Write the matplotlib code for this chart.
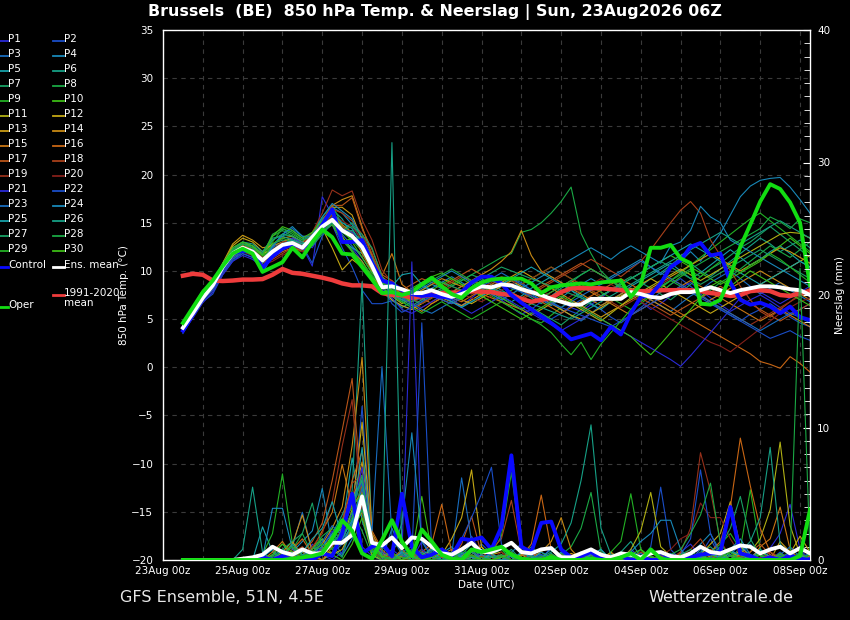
import matplotlib
matplotlib.use("Agg")
import matplotlib.pyplot as plt
import matplotlib.dates as mdates
import pandas as pd
from datetime import datetime
from matplotlib.ticker import MultipleLocator
from matplotlib.lines import Line2D

# 6-hourly steps of the 06Z run, 23Aug 12z .. 08Sep 06z
times = pd.date_range("2026-08-23 12:00", "2026-09-08 06:00", freq="6h")

# 850 hPa temperature (deg C)
clim = [9.5, 9.7, 9.6, 9.0, 8.95, 9.0, 9.1, 9.1, 9.15, 9.6, 10.2, 9.8, 9.7, 9.5, 9.3, 9.05,
        8.7, 8.5, 8.5, 8.4, 7.7, 7.5, 7.5, 7.2, 7.4, 7.5, 7.7, 7.7, 7.8, 7.9, 7.85, 7.8,
        7.6, 7.5, 7.1, 6.8, 7.0, 7.2, 7.8, 8.2, 8.2, 8.2, 8.2, 8.1, 8.0, 7.9, 7.9, 7.9,
        8.0, 8.0, 8.0, 8.0, 7.9, 7.7, 7.6, 7.4, 7.5, 7.9, 8.0, 7.9, 7.5, 7.4, 7.7, 7.9]
ens_mean = [4.1, 5.6, 7.2, 8.5, 10.4, 11.8, 12.4, 12.0, 11.1, 12.0, 12.7, 12.9, 12.4, 13.5, 14.6, 15.3,
            14.2, 13.6, 12.5, 10.5, 8.3, 8.4, 8.1, 7.7, 7.7, 8.0, 7.6, 7.3, 7.6, 8.0, 8.4, 8.3,
            8.6, 8.5, 8.1, 7.8, 7.5, 7.1, 6.8, 6.5, 6.5, 7.1, 7.1, 7.1, 7.1, 7.8, 7.6, 7.3,
            7.2, 7.6, 7.8, 7.8, 8.0, 8.3, 8.0, 7.7, 8.0, 8.2, 8.4, 8.4, 8.3, 8.1, 8.0, 7.5]
control = [3.8, 5.5, 7.5, 8.5, 10.3, 11.8, 12.1, 12.0, 10.3, 11.5, 12.3, 12.8, 12.4, 13.0, 14.8, 16.4,
           13.0, 13.0, 13.2, 10.8, 9.0, 8.7, 8.0, 7.6, 7.4, 7.5, 7.3, 7.2, 7.8, 8.8, 9.4, 9.4,
           8.7, 7.5, 6.7, 6.0, 5.3, 4.6, 3.8, 2.9, 3.2, 3.5, 2.8, 4.2, 3.4, 5.6, 7.3, 7.5,
           8.7, 10.4, 11.1, 12.5, 12.9, 11.6, 11.8, 8.8, 7.0, 6.5, 6.7, 6.3, 5.6, 6.3, 5.2, 4.9]
oper = [4.6, 6.2, 7.8, 9.0, 10.5, 11.8, 12.3, 11.8, 9.9, 10.4, 10.9, 12.4, 11.4, 13.0, 14.3, 13.5,
        11.8, 11.7, 10.4, 9.1, 7.7, 7.8, 7.5, 7.8, 8.6, 9.3, 8.4, 7.6, 7.2, 8.2, 8.8, 9.1,
        9.2, 9.2, 9.2, 8.7, 7.7, 8.3, 8.5, 8.6, 8.7, 8.6, 8.8, 8.9, 9.0, 7.3, 8.6, 12.4,
        12.4, 12.7, 11.3, 10.8, 6.6, 6.5, 7.0, 9.5, 12.5, 14.8, 17.2, 19.0, 18.5, 17.1, 15.0, 8.5]

t_p1 = [3.8, 5.4, 7.0, 8.2, 10.0, 11.5, 12.0, 11.6, 10.8, 11.8, 12.6, 13.0, 12.5, 10.5, 17.7, 15.8,
        13.2, 12.4, 11.0, 9.2, 8.0, 7.4, 7.0, 6.8, 7.2, 7.8, 7.5, 7.0, 6.4, 7.2, 8.0, 7.6,
        7.0, 6.2, 5.5, 6.0, 6.8, 7.4, 6.9, 6.2, 5.8, 6.5, 7.2, 8.0, 8.4, 7.6, 6.8, 6.0,
        6.6, 7.4, 8.2, 8.8, 8.0, 7.2, 6.5, 5.8, 6.4, 7.0, 7.5, 6.9, 6.2, 5.6, 6.0, 6.6]
t_p2 = [3.5, 5.2, 6.8, 7.6, 9.6, 11.0, 11.8, 11.4, 10.2, 11.4, 12.2, 12.6, 12.0, 12.8, 14.0, 14.8,
        12.4, 10.4, 8.0, 6.6, 6.6, 6.9, 6.4, 6.0, 6.8, 7.4, 8.0, 7.7, 7.2, 8.3, 9.0, 8.6,
        8.0, 7.4, 6.8, 6.2, 5.4, 5.0, 5.6, 6.4, 7.0, 6.5, 6.0, 5.2, 4.6, 5.4, 6.2, 7.0,
        7.8, 8.6, 9.2, 8.4, 7.6, 6.8, 6.0, 5.4, 4.8, 5.5, 6.0, 6.6, 5.9, 5.2, 4.6, 4.2]
t_p3 = [4.0, 5.6, 7.3, 8.4, 10.2, 11.6, 12.2, 12.0, 11.4, 12.4, 13.0, 13.4, 12.8, 13.8, 15.0, 15.8,
        13.8, 12.6, 11.4, 9.8, 8.6, 7.8, 7.2, 7.8, 8.4, 8.0, 7.4, 6.8, 6.3, 6.8, 7.4, 8.0,
        8.6, 9.2, 8.8, 8.0, 7.4, 6.8, 6.0, 5.4, 4.8, 5.6, 6.4, 7.0, 7.6, 8.2, 7.6, 7.0,
        6.4, 5.8, 6.6, 7.4, 8.0, 8.8, 9.4, 10.0, 9.2, 8.4, 7.6, 8.2, 8.8, 8.0, 7.4, 6.8]
t_p4 = [4.2, 5.8, 7.4, 8.6, 10.6, 12.2, 12.8, 12.4, 11.0, 12.6, 13.6, 14.2, 13.4, 13.0, 15.2, 16.6,
        16.0, 14.8, 13.0, 10.6, 8.8, 8.0, 7.4, 7.0, 7.6, 8.2, 8.8, 9.4, 8.8, 8.2, 7.6, 7.8,
        8.4, 9.0, 8.2, 7.6, 7.0, 6.4, 7.2, 8.0, 8.6, 9.2, 8.6, 9.4, 10.0, 10.6, 11.2, 10.4,
        9.6, 10.4, 11.0, 12.0, 11.0, 12.5, 13.9, 15.8, 17.7, 18.8, 19.4, 19.6, 19.7, 18.7, 17.4, 16.0]
t_p5 = [4.0, 5.5, 7.1, 8.0, 9.8, 11.2, 12.0, 11.8, 9.8, 11.6, 12.4, 13.2, 12.6, 13.4, 14.2, 15.0,
        13.2, 12.4, 11.8, 10.4, 9.0, 7.6, 6.8, 7.4, 8.0, 8.6, 8.2, 7.8, 8.4, 9.0, 8.6, 8.0,
        7.4, 6.8, 7.4, 8.2, 8.8, 9.4, 8.8, 8.0, 7.2, 6.6, 6.0, 6.8, 7.6, 8.4, 9.0, 9.6,
        10.2, 10.8, 10.0, 9.2, 9.8, 10.6, 11.4, 12.2, 11.4, 10.6, 11.2, 12.0, 12.6, 11.8, 11.0, 10.4]
t_p6 = [4.4, 6.0, 7.6, 8.8, 10.8, 12.4, 13.0, 12.6, 11.6, 13.2, 13.8, 13.6, 13.0, 13.8, 15.4, 16.4,
        15.4, 13.6, 12.2, 10.0, 8.4, 7.0, 6.2, 6.8, 7.4, 8.0, 7.6, 7.0, 7.6, 8.2, 8.8, 9.4,
        9.0, 8.4, 7.8, 7.2, 6.6, 7.4, 8.2, 8.8, 9.6, 10.2, 9.6, 9.0, 8.2, 7.6, 8.4, 9.2,
        9.8, 10.6, 11.4, 10.8, 10.0, 9.4, 10.2, 11.0, 11.8, 12.6, 13.4, 12.8, 12.0, 12.6, 13.2, 12.4]
t_p7 = [4.3, 5.8, 7.2, 8.6, 10.4, 12.0, 12.6, 12.2, 11.2, 12.8, 13.2, 13.0, 12.4, 12.8, 14.4, 15.4,
        14.2, 15.0, 13.4, 11.6, 9.2, 7.8, 7.4, 7.0, 6.6, 7.2, 7.8, 8.4, 9.0, 9.6, 9.2, 8.6,
        8.0, 7.4, 6.8, 6.2, 5.6, 5.0, 4.4, 5.2, 6.0, 6.8, 7.4, 8.0, 8.8, 9.4, 8.8, 8.2,
        7.6, 7.0, 7.8, 8.6, 9.4, 10.2, 10.8, 11.6, 12.4, 13.0, 13.8, 14.6, 13.8, 13.0, 12.2, 11.4]
t_p8 = [4.6, 6.2, 7.8, 9.0, 10.6, 12.0, 12.6, 12.4, 11.8, 13.6, 14.2, 13.6, 13.0, 14.0, 15.6, 16.8,
        14.8, 13.8, 12.6, 10.8, 8.8, 8.4, 7.6, 8.0, 8.6, 9.2, 8.8, 8.4, 9.0, 9.6, 10.2, 10.8,
        11.4, 11.8, 14.0, 14.3, 15.0, 16.0, 17.2, 18.7, 13.9, 11.8, 10.0, 9.0, 8.2, 7.4, 6.8, 7.6,
        8.4, 9.0, 8.4, 7.8, 7.2, 8.0, 8.8, 9.4, 10.2, 11.0, 11.8, 12.6, 12.0, 11.4, 12.2, 13.0]
t_p9 = [4.4, 6.0, 7.6, 8.8, 10.6, 12.2, 12.8, 12.4, 11.4, 13.0, 14.4, 14.0, 13.2, 13.6, 14.8, 15.8,
        14.0, 13.2, 12.0, 10.2, 8.8, 7.6, 6.8, 6.2, 6.8, 7.4, 8.0, 8.6, 9.2, 8.6, 8.0, 7.4,
        6.8, 6.2, 5.6, 5.0, 4.6, 5.4, 6.2, 7.0, 7.8, 8.4, 7.8, 7.2, 6.6, 6.0, 6.6, 7.4,
        8.2, 9.0, 9.8, 10.6, 11.4, 12.2, 13.0, 13.8, 14.6, 15.4, 16.0, 15.2, 14.4, 13.6, 12.8, 12.0]
t_p10 = [4.5, 6.1, 7.7, 8.9, 10.6, 12.0, 12.5, 12.1, 11.0, 12.2, 12.8, 12.6, 12.0, 13.0, 14.0, 14.8,
         13.0, 13.4, 13.6, 11.2, 8.6, 8.2, 7.6, 8.2, 8.8, 9.4, 9.8, 9.2, 8.6, 8.0, 7.4, 6.8,
         7.4, 8.0, 8.6, 9.2, 9.8, 10.4, 9.8, 9.2, 8.6, 8.0, 7.4, 8.0, 8.6, 9.2, 9.8, 10.4,
         11.0, 11.6, 11.0, 10.4, 9.8, 9.2, 8.6, 9.2, 9.8, 10.4, 11.0, 11.8, 12.6, 13.4, 12.6, 11.8]
t_p11 = [4.2, 5.8, 7.5, 8.6, 10.4, 12.0, 12.8, 12.6, 11.8, 12.2, 12.6, 12.8, 12.4, 13.2, 14.6, 15.6,
         13.6, 12.0, 11.0, 9.4, 8.2, 7.4, 6.6, 7.2, 7.8, 7.4, 7.0, 6.6, 7.2, 7.8, 8.4, 7.8,
         7.2, 6.6, 6.0, 5.4, 6.0, 6.6, 7.2, 6.6, 6.0, 5.4, 4.8, 5.6, 6.4, 7.2, 7.8, 8.4,
         9.0, 9.6, 10.2, 9.6, 9.0, 9.6, 10.2, 10.8, 11.4, 12.0, 12.6, 13.2, 13.8, 14.0, 13.9, 13.4]
t_p12 = [4.4, 6.0, 7.8, 8.7, 10.6, 12.6, 13.4, 13.0, 12.0, 12.8, 13.4, 13.6, 13.0, 13.2, 14.4, 12.4,
         10.1, 11.2, 10.4, 9.0, 7.8, 7.0, 6.4, 6.0, 6.6, 7.2, 7.8, 7.4, 7.0, 6.6, 7.2, 7.8,
         8.4, 9.0, 8.4, 7.8, 7.2, 6.6, 6.0, 5.4, 5.0, 5.6, 6.2, 6.8, 7.4, 8.0, 8.6, 9.2,
         8.6, 8.0, 7.4, 6.8, 6.2, 5.6, 6.2, 6.8, 7.4, 8.0, 8.6, 9.2, 9.8, 10.4, 11.0, 11.6]
t_p13 = [4.6, 6.3, 8.0, 8.8, 10.8, 12.8, 13.7, 13.2, 12.4, 12.6, 13.0, 13.4, 13.0, 13.4, 14.8, 16.6,
         16.6, 15.8, 13.2, 10.8, 9.0, 8.6, 8.0, 6.4, 5.8, 6.6, 7.2, 6.8, 6.4, 7.0, 7.6, 8.2,
         8.8, 9.4, 10.0, 9.4, 8.8, 8.2, 7.6, 7.0, 6.4, 5.8, 5.2, 5.8, 6.4, 7.0, 7.6, 8.2,
         8.8, 9.4, 10.0, 10.6, 11.2, 11.8, 11.2, 10.6, 10.0, 10.6, 11.2, 11.8, 12.4, 12.0, 11.4, 10.8]
t_p14 = [4.3, 5.9, 7.6, 8.5, 10.2, 11.8, 12.6, 12.2, 11.2, 12.0, 12.6, 13.0, 12.6, 13.4, 15.0, 16.8,
         17.4, 17.8, 14.6, 11.6, 9.2, 8.4, 7.8, 7.4, 8.0, 8.6, 9.2, 8.8, 8.4, 9.0, 9.6, 10.2,
         11.0, 12.0, 14.2, 11.6, 10.0, 9.4, 8.8, 8.2, 7.6, 7.0, 6.4, 7.0, 7.6, 8.2, 7.6, 7.0,
         6.4, 5.8, 5.2, 5.8, 6.4, 7.0, 7.6, 8.2, 8.8, 9.4, 10.0, 9.4, 8.8, 8.2, 7.6, 7.0]
t_p15 = [4.2, 5.7, 7.4, 8.3, 10.0, 11.6, 12.4, 12.0, 11.0, 11.6, 12.2, 12.6, 12.2, 13.0, 14.4, 15.8,
         14.8, 14.0, 11.8, 10.0, 9.5, 11.8, 8.6, 7.8, 7.2, 6.6, 7.2, 7.8, 8.4, 8.0, 7.6, 7.2,
         6.8, 6.4, 6.0, 6.6, 7.2, 7.8, 8.4, 9.0, 8.4, 7.8, 7.2, 6.6, 6.0, 5.4, 6.0, 6.6,
         7.2, 7.8, 8.4, 9.0, 8.4, 7.8, 7.2, 6.6, 6.0, 5.4, 4.8, 5.4, 6.0, 5.4, 4.8, 4.2]
t_p16 = [4.0, 5.5, 7.2, 8.2, 9.8, 11.4, 12.2, 11.8, 10.8, 11.4, 12.0, 12.4, 12.0, 12.8, 14.2, 15.6,
         14.6, 13.6, 12.8, 11.6, 9.4, 8.6, 7.4, 6.8, 7.4, 8.0, 7.6, 7.2, 6.8, 7.4, 8.0, 8.6,
         9.2, 8.6, 8.0, 7.4, 6.8, 6.2, 5.6, 6.2, 6.8, 7.4, 8.0, 8.6, 9.2, 8.6, 8.0, 7.4,
         6.8, 6.2, 5.6, 5.0, 4.4, 3.8, 3.2, 2.6, 2.0, 1.4, 0.6, 0.3, -0.1, 1.1, 0.4, -0.5]
t_p17 = [4.1, 5.6, 7.3, 8.4, 10.2, 11.8, 12.6, 12.2, 11.2, 12.0, 12.6, 13.0, 12.8, 13.6, 15.2, 16.8,
         16.8, 17.6, 14.4, 12.2, 9.6, 9.0, 8.0, 8.6, 9.2, 8.8, 8.4, 9.0, 9.6, 10.2, 9.6, 9.0,
         8.4, 7.8, 7.2, 7.8, 8.4, 9.0, 9.6, 10.2, 10.8, 10.2, 9.6, 9.0, 8.4, 7.8, 7.2, 6.6,
         6.0, 5.4, 6.0, 6.6, 7.2, 7.8, 8.4, 7.8, 7.2, 6.6, 6.0, 5.4, 4.8, 5.4, 6.0, 6.6]
t_p18 = [4.0, 5.5, 7.1, 8.2, 10.0, 11.6, 12.4, 12.0, 11.0, 11.2, 11.8, 12.4, 12.2, 13.0, 14.6, 16.4,
         16.0, 15.2, 13.8, 11.8, 9.2, 8.8, 8.0, 7.4, 7.0, 7.6, 8.2, 8.8, 9.4, 9.0, 8.6, 8.2,
         7.8, 7.4, 7.0, 7.6, 8.2, 8.8, 9.4, 10.0, 10.6, 11.2, 10.6, 10.0, 9.4, 10.2, 11.0, 12.2,
         13.6, 15.0, 16.3, 17.2, 16.0, 13.2, 11.6, 10.0, 8.4, 7.0, 5.8, 5.2, 6.0, 6.8, 7.6, 8.2]
t_p19 = [4.1, 5.6, 7.2, 8.4, 10.2, 11.8, 12.4, 12.2, 11.4, 12.2, 13.0, 13.2, 12.8, 14.0, 16.0, 18.4,
         17.8, 18.3, 15.3, 13.2, 10.1, 8.8, 7.8, 7.2, 6.6, 7.2, 7.8, 8.4, 8.0, 7.6, 8.2, 8.8,
         9.4, 9.0, 8.6, 9.2, 9.8, 10.4, 9.8, 9.2, 8.6, 8.0, 7.4, 6.8, 6.2, 6.8, 7.4, 8.0,
         8.6, 9.2, 8.6, 8.0, 7.4, 6.8, 6.2, 5.6, 5.0, 4.4, 5.0, 5.6, 6.2, 6.8, 7.4, 8.0]
t_p20 = [4.0, 5.5, 7.0, 8.0, 9.8, 11.4, 12.0, 11.6, 10.6, 11.0, 11.6, 12.2, 12.0, 12.6, 14.2, 15.8,
         15.2, 14.6, 13.2, 11.4, 9.0, 8.2, 7.2, 6.6, 6.2, 6.8, 7.4, 8.0, 7.6, 7.2, 6.8, 7.4,
         8.0, 8.6, 9.2, 8.6, 8.0, 7.4, 6.8, 7.4, 8.0, 8.6, 9.2, 8.6, 8.0, 7.4, 6.8, 6.2,
         5.6, 5.0, 4.4, 3.8, 3.2, 2.6, 2.2, 1.6, 2.4, 3.2, 4.0, 4.8, 5.6, 6.2, 6.8, 7.2]
t_p21 = [3.6, 5.1, 6.7, 7.8, 9.6, 11.0, 11.6, 11.2, 10.4, 11.6, 12.6, 13.4, 13.0, 12.4, 14.2, 15.6,
         14.4, 14.0, 13.0, 11.2, 9.0, 7.2, 6.0, 5.6, 6.2, 6.8, 7.4, 6.8, 6.2, 5.6, 6.2, 6.8,
         7.4, 6.8, 6.2, 5.6, 5.0, 4.4, 3.8, 4.4, 5.0, 5.6, 5.0, 4.4, 3.8, 3.2, 2.6, 2.0,
         1.4, 0.8, 0.1, 1.2, 2.4, 3.6, 4.8, 6.0, 7.2, 8.4, 7.8, 7.2, 6.6, 7.2, 7.8, 8.4]
t_p22 = [3.7, 5.3, 6.9, 8.0, 9.8, 11.2, 11.8, 11.4, 10.4, 11.8, 12.6, 13.0, 12.6, 10.8, 13.6, 15.2,
         14.0, 13.6, 12.4, 10.6, 8.4, 6.6, 5.7, 6.2, 6.8, 7.4, 7.0, 6.6, 7.2, 7.8, 8.4, 9.0,
         8.6, 8.2, 7.8, 7.4, 7.0, 6.6, 6.2, 5.8, 5.4, 5.0, 4.6, 4.2, 4.8, 5.4, 6.0, 6.6,
         7.2, 7.8, 8.4, 7.8, 7.2, 6.6, 6.0, 5.4, 4.8, 4.2, 3.6, 3.0, 3.4, 3.8, 3.2, 2.8]
t_p23 = [3.9, 5.5, 7.1, 8.2, 10.0, 11.4, 12.0, 11.8, 11.0, 12.4, 13.8, 14.4, 13.6, 13.2, 15.2, 16.2,
         14.2, 13.4, 12.2, 10.8, 9.2, 8.0, 7.2, 6.6, 6.0, 5.6, 6.2, 6.8, 7.4, 8.0, 8.6, 9.2,
         9.8, 9.2, 8.6, 8.0, 7.4, 6.8, 6.2, 6.8, 7.4, 8.0, 8.6, 9.2, 9.8, 10.4, 11.0, 10.4,
         9.8, 9.2, 8.6, 8.0, 7.4, 6.8, 6.2, 5.6, 5.0, 4.4, 3.8, 4.4, 5.0, 5.6, 5.2, 4.6]
t_p24 = [4.1, 5.7, 7.3, 8.4, 10.4, 11.8, 12.4, 12.2, 10.8, 12.6, 13.8, 14.6, 13.6, 13.6, 15.6, 17.0,
         16.2, 15.4, 13.4, 11.0, 8.8, 7.6, 7.0, 7.6, 8.2, 8.8, 9.4, 10.0, 9.4, 8.8, 8.2, 7.6,
         7.0, 7.6, 8.2, 8.8, 9.4, 10.0, 10.6, 11.2, 11.8, 12.4, 11.8, 11.2, 12.0, 12.6, 12.0, 11.4,
         10.8, 12.6, 13.0, 14.2, 16.7, 15.6, 15.0, 13.2, 12.6, 12.0, 11.4, 10.8, 10.2, 9.6, 9.0, 8.4]
t_p25 = [4.0, 5.6, 7.2, 8.3, 10.2, 11.6, 12.2, 12.0, 10.0, 11.8, 12.8, 13.2, 12.8, 13.0, 15.0, 16.0,
         15.0, 14.4, 12.6, 11.0, 9.0, 8.4, 9.6, 9.8, 8.6, 8.0, 7.4, 6.8, 6.2, 6.8, 7.4, 8.0,
         8.6, 9.2, 9.8, 10.4, 9.8, 9.2, 8.6, 8.0, 7.4, 6.8, 7.4, 8.0, 8.6, 9.2, 9.8, 10.4,
         11.0, 11.6, 12.2, 12.8, 12.2, 11.6, 11.0, 10.4, 9.8, 9.2, 8.6, 9.2, 9.8, 10.4, 11.0, 10.4]
t_p26 = [4.3, 5.9, 7.5, 8.6, 10.6, 12.2, 13.0, 12.8, 12.0, 13.4, 13.6, 13.2, 12.8, 13.2, 14.8, 15.2,
         14.0, 14.2, 13.0, 11.4, 8.6, 7.8, 7.0, 6.4, 7.0, 7.6, 8.2, 7.8, 7.4, 8.0, 8.6, 8.2,
         7.8, 7.4, 7.0, 6.6, 6.2, 5.8, 5.4, 5.0, 5.6, 6.2, 6.8, 7.4, 8.0, 8.6, 9.2, 9.8,
         10.4, 11.0, 11.6, 12.2, 12.8, 13.4, 14.0, 13.4, 12.8, 13.4, 14.0, 14.6, 15.2, 14.6, 14.0, 13.4]
t_p27 = [4.2, 5.8, 7.4, 8.6, 10.4, 12.0, 12.8, 12.6, 11.8, 13.2, 13.8, 13.6, 13.0, 12.6, 13.8, 15.0,
         14.2, 14.6, 13.8, 12.4, 9.4, 8.2, 7.4, 8.0, 8.6, 9.2, 8.8, 8.4, 8.0, 8.6, 9.2, 9.8,
         10.4, 10.0, 9.6, 9.2, 8.8, 8.4, 8.0, 7.6, 7.2, 6.8, 7.4, 8.0, 8.6, 9.2, 9.8, 10.4,
         11.0, 10.4, 9.8, 9.2, 8.6, 9.2, 9.8, 10.4, 11.0, 11.6, 12.2, 11.6, 11.0, 10.4, 9.8, 9.2]
t_p28 = [4.5, 6.1, 7.7, 8.8, 10.6, 12.2, 12.8, 12.4, 11.6, 13.8, 14.4, 13.8, 13.2, 13.6, 14.6, 15.4,
         13.4, 12.2, 10.6, 9.4, 8.6, 7.8, 7.2, 7.8, 8.4, 9.0, 9.6, 10.2, 9.6, 9.0, 8.4, 7.8,
         7.2, 6.6, 6.0, 6.6, 7.2, 7.8, 8.4, 9.0, 9.6, 10.2, 9.6, 9.0, 8.4, 7.8, 7.2, 7.8,
         8.4, 9.0, 9.6, 10.2, 10.8, 11.4, 12.0, 12.6, 13.2, 13.8, 14.4, 15.6, 15.1, 14.4, 15.4, 15.0]
t_p29 = [4.4, 6.0, 7.6, 8.6, 10.4, 11.8, 12.4, 12.0, 11.2, 12.8, 13.4, 13.0, 12.4, 12.8, 14.0, 15.2,
         13.2, 12.0, 10.8, 9.6, 8.4, 7.4, 6.8, 6.2, 5.6, 6.2, 6.8, 6.2, 5.6, 5.0, 5.6, 6.2,
         6.8, 6.2, 5.6, 5.0, 4.4, 3.6, 2.4, 1.3, 2.6, 0.8, 2.4, 3.6, 4.8, 6.0, 7.2, 8.0,
         7.8, 8.6, 9.4, 10.0, 9.4, 10.2, 11.0, 10.4, 9.8, 10.6, 11.2, 11.8, 11.2, 10.4, 9.6, 8.8]
t_p30 = [4.6, 6.2, 7.8, 9.0, 10.8, 12.4, 13.0, 12.6, 11.6, 13.6, 14.6, 14.2, 13.4, 14.0, 15.2, 16.2,
         14.4, 13.0, 11.4, 9.8, 8.8, 8.0, 7.4, 6.8, 7.4, 8.0, 8.6, 9.2, 8.6, 8.0, 7.4, 6.8,
         6.2, 5.6, 5.0, 5.6, 6.2, 6.8, 7.4, 6.8, 6.2, 5.6, 5.0, 4.4, 3.8, 3.2, 2.2, 1.3,
         2.4, 3.6, 4.8, 6.0, 7.2, 8.4, 9.0, 8.4, 9.2, 10.0, 9.4, 8.8, 8.2, 7.6, 7.0, 6.4]

# 6-hourly precipitation (mm)
rain_control = [0, 0, 0, 0, 0, 0, 0, 0, 0.2, 0, 0.3, 0, 0.2, 0, 0.5, 0.3,
                2.0, 5.0, 0.5, 1.0, 1.3, 0.3, 5.0, 1.0, 0.2, 0.4, 0.8, 0.3, 1.6, 1.5, 1.7, 0.8,
                2.5, 7.9, 1.0, 0.6, 2.8, 2.9, 0.8, 0.2, 0.3, 0.6, 0.1, 0, 0.3, 0, 0.2, 0,
                0, 0.3, 0, 0.2, 0.4, 0.5, 0.6, 4.0, 0.5, 0.3, 0, 0.2, 0, 0.3, 0.1, 0]
rain_mean = [0, 0, 0, 0, 0, 0, 0.1, 0.2, 0.4, 1.0, 0.6, 0.4, 0.8, 0.5, 0.5, 1.3,
             1.3, 1.9, 4.8, 1.3, 1.1, 1.7, 0.9, 1.7, 1.6, 1.0, 0.5, 0.4, 0.8, 1.3, 0.6, 0.6,
             0.9, 1.3, 0.6, 0.5, 0.8, 0.9, 0.2, 0.2, 0.5, 0.8, 0.4, 0.2, 0.5, 0.4, 0.2, 0.5,
             0.6, 0.3, 0.2, 0.5, 1.0, 0.6, 0.5, 0.8, 1.1, 1.0, 0.5, 0.8, 1.0, 0.5, 0.9, 0.5]
rain_oper = [0, 0, 0, 0, 0, 0, 0, 0, 0, 0, 0, 0.1, 0.2, 0.3, 0.5, 1.6,
             3.0, 2.2, 0.5, 0.1, 1.5, 3.0, 1.4, 0.3, 2.3, 1.4, 0.4, 0.1, 0, 0.8, 0.6, 0.8,
             1.0, 0.4, 0.1, 0, 0, 0.2, 0, 0, 0, 0.1, 0, 0, 0.2, 0.5, 0, 0.8,
             0.1, 0, 0, 0, 0, 0, 0, 0, 0, 0, 0, 0, 0, 0, 0.3, 3.8]

r_p1 = [0, 0, 0, 0, 0, 0, 0, 0, 0, 0.3, 0.8, 0.2, 0, 1.2, 0.4, 0,
        0.6, 2.2, 1.0, 0.3, 0, 0.8, 0.2, 0, 1.4, 0.5, 0, 0, 0.6, 1.8, 0.4, 0,
        0, 0.5, 0.2, 0, 0, 1.0, 0.3, 0, 0, 0, 0.4, 0, 0, 0.8, 0.2, 0,
        0, 0, 0.6, 1.2, 0.3, 0, 0, 0, 0.5, 0.2, 0, 0.9, 2.0, 4.2, 0.8, 0]
r_p2 = [0, 0, 0, 0, 0, 0, 0, 0, 0, 0, 0, 0.5, 0.2, 0, 0.8, 1.6,
        0.4, 3.0, 11.6, 1.2, 0.4, 0, 0.6, 1.0, 0.3, 0, 0.2, 0, 0, 0.4, 1.2, 0.5,
        0, 0, 0.3, 0.8, 0, 0, 0, 0.2, 0, 0.5, 0, 0, 0.3, 0, 0, 1.0,
        5.5, 0.8, 0, 0, 0.4, 1.6, 0.2, 0, 0, 0.3, 0, 0, 0.6, 0, 0.2, 0]
r_p3 = [0, 0, 0, 0, 0, 0, 0, 0, 0, 0, 0.4, 1.0, 3.6, 0.6, 0, 0.5,
        1.2, 2.6, 4.0, 0.8, 0.2, 0, 0.5, 0.2, 0, 0.8, 0, 0.4, 6.2, 1.4, 0.3, 0,
        0, 0.6, 1.2, 0.2, 0, 0, 0.4, 0, 0, 0, 0.2, 0, 0, 0.6, 0.3, 0,
        0, 0.4, 0, 0, 0.8, 0.2, 0, 0, 0.5, 1.2, 0.4, 0, 0, 0.3, 0, 0.6]
r_p4 = [0, 0, 0, 0, 0, 0, 0, 0, 0.2, 0.8, 0, 0.6, 1.4, 2.2, 5.4, 1.0,
        0.3, 1.6, 6.2, 0.8, 0, 2.4, 0.6, 0.2, 0, 0, 0.5, 1.0, 0.2, 0, 0.8, 0.3,
        0, 0, 0.5, 0, 0.2, 0.8, 0, 0, 0.3, 0, 0, 0.4, 0, 0, 0.2, 0.6,
        0.3, 0, 0, 0.4, 1.2, 2.0, 0.6, 0, 0, 0.2, 0.8, 0, 0, 0.4, 0, 0]
r_p5 = [0, 0, 0, 0, 0, 0, 0, 0, 2.5, 0.6, 0, 0.4, 0.8, 0, 0.6, 1.8,
        2.4, 7.7, 3.0, 0.6, 1.2, 0, 0.3, 0, 0.8, 0.2, 0, 0, 0.5, 0.3, 0, 0.6,
        1.0, 0.2, 0, 0, 0.4, 0, 0.6, 0, 0, 0.3, 0.8, 0, 0, 0.2, 0, 0,
        0.4, 0, 0.3, 0, 0, 0, 0.5, 0.8, 0.2, 0, 0, 0.6, 0, 0, 0.3, 0]
r_p6 = [0, 0, 0, 0, 0, 0, 0, 0, 0, 0, 0.6, 0.2, 0, 1.0, 0.4, 2.0,
        3.4, 5.2, 21.0, 1.6, 0.4, 0, 0.8, 0.2, 0, 0, 0.6, 0, 0.4, 1.2, 0, 0,
        0.2, 0.8, 0, 0, 0, 0.5, 0, 0, 0.2, 0.4, 0, 0, 0.6, 1.4, 0.2, 0,
        0, 0.3, 0, 0, 0, 0.6, 0.2, 0, 1.0, 0.4, 0, 0, 0.3, 0, 0, 0.2]
r_p7 = [0, 0, 0, 0, 0, 0, 0, 0, 0, 0.4, 1.2, 0.3, 0, 0.5, 1.6, 0.8,
        0.2, 2.8, 5.6, 2.0, 0.4, 0, 0, 0.8, 0.3, 0, 0, 0.5, 0, 0.2, 0.6, 0,
        0, 0, 0.4, 1.0, 0.3, 0, 0, 0.2, 0, 0, 0.5, 0, 0, 0, 0.8, 0.2,
        0, 0, 0.4, 0, 0.2, 0, 0, 0.3, 0.6, 0, 0, 0.2, 0.4, 0, 0, 0.5]
r_p8 = [0, 0, 0, 0, 0, 0, 0, 0, 0, 0, 0, 0.8, 2.0, 0.4, 0, 0.6,
        1.4, 3.6, 2.2, 0.3, 0, 0.4, 0, 0, 0.2, 0.6, 0, 0, 0.3, 0, 0, 0.4,
        0.8, 0, 0, 0, 0.2, 0, 0.4, 1.0, 2.4, 5.1, 0.6, 0, 0, 0, 0.3, 0,
        0, 0.2, 0, 0.5, 0, 0, 0.2, 0.8, 0, 0, 0.4, 0, 0.2, 0.6, 0, 0]
r_p9 = [0, 0, 0, 0, 0, 0, 0, 0, 0.4, 2.0, 6.5, 1.2, 0.3, 0, 0.8, 0.4,
        1.6, 2.4, 6.0, 0.8, 0, 0.2, 0.6, 0, 0, 0.4, 0, 0, 0.8, 0.3, 0, 0.5,
        1.8, 6.6, 0.8, 0, 0, 0.3, 0, 0, 0.5, 0.2, 0, 0.6, 1.4, 5.0, 0.8, 0,
        0.2, 0, 0, 0.4, 0, 0.6, 1.2, 2.0, 0.8, 5.3, 0.8, 0, 0.3, 0, 0, 0]
r_p10 = [0, 0, 0, 0, 0, 0, 0, 0, 0, 0, 0.3, 0.6, 0, 0.8, 1.6, 0.4,
         0, 1.2, 3.2, 0.6, 0.2, 0.8, 1.4, 0.4, 4.8, 0.6, 0, 0, 0.2, 0, 0.4, 0,
         0, 0.3, 0, 0, 0.6, 0, 0, 0, 0.2, 0, 0, 0.3, 0, 0, 0.5, 0,
         0, 0.2, 0, 0, 0.3, 0, 0, 0.4, 0, 0, 0.6, 0.2, 0, 0, 0.3, 0]
r_p11 = [0, 0, 0, 0, 0, 0, 0, 0, 0, 0, 0, 0.2, 0.6, 0, 1.0, 0.4,
         0.8, 2.4, 3.6, 0.4, 0, 0, 0.3, 0, 0.6, 0.2, 0, 0, 0, 0.6, 1.0, 0.2,
         0, 0, 0.2, 0, 0, 0.4, 0, 0, 0, 0.3, 0, 0.6, 0, 0.8, 2.2, 5.1,
         1.0, 0.3, 0, 0, 0.2, 0, 0.5, 0, 0.4, 0.6, 1.6, 3.8, 8.9, 2.6, 0.4, 0]
r_p12 = [0, 0, 0, 0, 0, 0, 0, 0, 0, 0, 0.4, 0, 0.8, 0.3, 0, 0.6,
         1.4, 3.8, 10.4, 1.2, 0.3, 0, 0.2, 0.6, 0, 1.0, 0.4, 1.6, 3.2, 6.8, 1.0, 0.2,
         0, 0, 0.4, 0, 0, 0, 0.2, 0, 0, 0.5, 0, 0, 0.3, 0, 0, 0.6,
         0.2, 0, 0, 0, 0.4, 1.2, 2.0, 4.4, 1.0, 0.3, 0, 0.2, 0, 0.5, 1.8, 0.6]
r_p13 = [0, 0, 0, 0, 0, 0, 0, 0, 0, 0, 0.6, 1.4, 0.3, 0, 0.8, 1.8,
         2.6, 4.2, 7.4, 1.4, 0.6, 0, 0.4, 0, 0, 0.3, 0.8, 0, 0, 0.2, 0, 0.4,
         0.6, 0, 0, 0.3, 0, 0, 0, 0.5, 0.2, 0, 0, 0.4, 0, 0, 0, 0.3,
         0, 0, 0.6, 0.2, 0, 0, 0.4, 0, 0.8, 0.2, 0, 0, 1.4, 0.6, 0, 0]
r_p14 = [0, 0, 0, 0, 0, 0, 0, 0, 0, 0, 0.4, 1.2, 3.4, 0.6, 1.2, 2.4,
         4.0, 8.6, 15.3, 2.0, 0.6, 0.2, 0, 0.4, 0, 0, 0.6, 0, 0.3, 0.8, 0, 0,
         0.4, 0, 0, 0.2, 0.6, 1.4, 3.2, 0.8, 0, 0, 0.3, 0, 0, 0.2, 0, 0,
         0, 0.4, 0, 0, 0.3, 0, 0, 0.6, 0.2, 0, 0, 0.4, 0, 0, 0.2, 0]
r_p15 = [0, 0, 0, 0, 0, 0, 0, 0, 0, 0.6, 1.4, 0.3, 0, 0.8, 2.2, 3.6,
         7.2, 4.0, 5.2, 1.4, 0.2, 0, 0.6, 0.3, 0, 0, 0.4, 0.8, 0, 0, 0.3, 0,
         0, 0.6, 0, 0, 0.2, 0, 0.4, 0, 0, 0, 0.6, 0, 0, 0.3, 0, 0,
         0, 0, 0.5, 0, 0, 0.3, 0, 0, 0.4, 0, 1.0, 1.6, 4.0, 0.8, 0, 0.3]
r_p16 = [0, 0, 0, 0, 0, 0, 0, 0, 0, 0, 0.2, 0.8, 1.6, 0.4, 0, 1.0,
         2.4, 6.0, 8.2, 2.2, 0.8, 0, 0.3, 0, 0.6, 1.2, 4.2, 0.6, 0, 0.2, 0, 0.4,
         0, 0, 0.3, 1.2, 4.9, 0.8, 0, 0, 0, 0.2, 0, 0.5, 0, 0, 0, 0,
         0.3, 0, 0, 0.2, 0, 0.6, 1.4, 4.0, 9.2, 5.6, 2.4, 0.6, 0, 0.2, 0, 0]
r_p17 = [0, 0, 0, 0, 0, 0, 0, 0, 0, 0, 0.4, 0.2, 0.6, 1.4, 2.8, 6.0,
         9.8, 13.7, 4.6, 1.0, 0.3, 0, 0.8, 0, 0, 0.5, 0.2, 0, 1.2, 3.3, 0.4, 0,
         0.3, 0, 0, 0.6, 0, 0, 0.2, 0, 0.4, 0, 0, 0, 0.3, 0, 0.6, 0.2,
         0, 0, 0.4, 0, 0, 0.8, 0.3, 0, 0, 0.6, 1.2, 0.4, 0, 0, 0.5, 0]
r_p18 = [0, 0, 0, 0, 0, 0, 0, 0, 0, 0, 0, 0.6, 1.0, 0.3, 0.8, 1.6,
         3.0, 5.8, 6.4, 1.8, 0.4, 0, 0.2, 0.6, 0, 0, 0.4, 0, 0, 0.6, 0.2, 0.8,
         1.6, 4.5, 0.6, 0, 0, 0.3, 0, 0, 0.2, 0, 0, 0.4, 0, 0, 0, 0.2,
         0, 0, 0.3, 0.8, 1.6, 0.4, 0, 0, 0.3, 0, 0, 0.6, 0.2, 0, 0, 0]
r_p19 = [0, 0, 0, 0, 0, 0, 0, 0, 0, 0, 0, 0.4, 0.2, 1.0, 2.0, 4.4,
         8.6, 12.1, 3.6, 0.8, 0, 0.4, 0, 0, 0.3, 0, 0, 0.6, 0, 0, 0.2, 0,
         0, 0.3, 0, 0, 0.2, 0, 0, 0.4, 0, 0, 0, 0, 0.3, 0, 0, 0.5,
         0.2, 0, 0.6, 2.4, 8.1, 5.2, 1.4, 0.3, 0, 0, 0.2, 0, 0, 0.4, 0, 0]
r_p20 = [0, 0, 0, 0, 0, 0, 0, 0, 0, 0, 0.3, 0.8, 0.2, 0, 0.6, 1.2,
         2.2, 4.8, 6.8, 1.0, 0.2, 0, 0, 0.5, 0.8, 0, 0, 0.3, 0, 0.4, 0, 0,
         0.6, 0, 0, 0.2, 0, 0, 0.5, 0, 0, 0.3, 0, 0, 0, 0.4, 0, 0,
         0.3, 0.8, 1.6, 2.0, 4.3, 3.2, 3.2, 1.6, 0.4, 0, 0, 0.3, 0, 0, 0.2, 0]
r_p21 = [0, 0, 0, 0, 0, 0, 0, 0, 0, 0, 0, 0.3, 0.8, 0.2, 1.0, 2.2,
         1.4, 3.4, 7.0, 1.2, 0.6, 0.2, 0.4, 22.5, 0.8, 0.2, 0, 0.5, 0, 0, 0.6, 0.3,
         0, 0, 0.2, 0, 0.4, 0, 0, 0, 0.3, 0, 0, 0.2, 0, 0, 0, 0.6,
         0.4, 0, 0, 0.3, 0, 0, 0.5, 0, 0.2, 0, 0, 0.3, 0, 0.6, 0, 0.2]
r_p22 = [0, 0, 0, 0, 0, 0, 0, 0, 0, 0, 0.4, 1.0, 0.3, 0, 0.6, 1.2,
         2.0, 4.4, 5.8, 0.8, 0.3, 0, 0.2, 0.4, 17.9, 0.6, 0, 0.4, 1.6, 3.2, 5.0, 7.0,
         1.2, 0.3, 0, 0, 0.4, 0, 0, 0.2, 0, 0, 0.3, 0, 0, 0, 0.5, 0,
         0.2, 0, 0.4, 1.6, 6.8, 2.0, 0.3, 0, 0, 0.2, 0, 0, 0.4, 0, 0, 0]
r_p23 = [0, 0, 0, 0, 0, 0, 0, 0, 0, 0, 0.2, 0.6, 0, 0.4, 1.4, 2.6,
         1.8, 3.0, 5.4, 2.2, 14.6, 1.8, 0.4, 0, 0.6, 0, 0.3, 0, 0.4, 0.8, 0, 0,
         0.3, 0, 0, 0.4, 0, 0.2, 0, 0, 0.6, 0.2, 0, 0, 0.4, 0, 0.3, 0,
         0, 0.5, 0, 0, 0.2, 0.6, 0, 0.4, 1.2, 0.3, 0, 0, 0.4, 1.0, 0.2, 0]
r_p24 = [0, 0, 0, 0, 0, 0, 0, 0, 0.2, 3.9, 3.9, 0.8, 0.4, 0.6, 1.0, 2.0,
         1.2, 2.8, 4.6, 0.6, 1.0, 0.4, 2.8, 9.6, 1.4, 0.2, 0, 0.6, 0.2, 0, 0.4, 0,
         0, 0.3, 0, 0, 0.6, 0.2, 0, 0, 0.4, 0, 0, 0.3, 0, 0.6, 1.4, 2.0,
         3.0, 3.0, 0.8, 0, 0.2, 0.4, 0.2, 0.8, 1.6, 0.4, 0, 0, 0.3, 0, 0, 0]
r_p25 = [0, 0, 0, 0, 0, 0, 0, 0, 0, 0, 0.8, 0.3, 0.6, 1.6, 2.4, 4.4,
         1.6, 3.0, 8.5, 1.4, 0.3, 0, 0.6, 0, 0.4, 0.8, 0, 0, 0.3, 0.2, 0, 0.5,
         0, 0, 0.6, 0.2, 0, 0, 0.3, 0, 0, 0.4, 0.8, 0, 0.2, 0, 0, 0.4,
         0.6, 0.2, 0, 0, 0.3, 0, 0, 0.6, 0.4, 0, 0.8, 0.2, 0, 0, 0.4, 0]
r_p26 = [0, 0, 0, 0, 0, 0, 0.8, 5.5, 0.6, 0, 0.3, 1.2, 0.4, 0, 0.8, 1.4,
         2.0, 4.6, 6.0, 1.2, 0.4, 31.5, 0.6, 0.2, 0, 0.5, 0, 0.2, 0, 0.6, 0, 0.3,
         0, 0.4, 0, 0, 0.2, 0.6, 1.2, 2.8, 6.0, 10.2, 2.4, 0.4, 0.3, 0, 0, 0,
         0.2, 0, 0.4, 0, 0.6, 1.0, 0.3, 0, 0.6, 1.4, 3.2, 8.5, 1.2, 0.4, 0, 0]
r_p27 = [0, 0, 0, 0, 0, 0, 0, 0, 0, 0.3, 0.8, 1.4, 2.0, 4.3, 0.8, 1.2,
         2.2, 3.6, 6.4, 1.0, 0.2, 0, 0.4, 0.8, 0, 0, 0.3, 0, 0.6, 0, 0, 0.2,
         0.4, 0, 0, 0.3, 0, 0, 0.5, 0, 0, 0.2, 0.6, 0, 0, 0.3, 0, 0,
         0.2, 0, 0.4, 0.8, 0, 0.2, 1.0, 2.4, 4.8, 1.6, 0.3, 0, 0.2, 0, 0.6, 0]
r_p28 = [0, 0, 0, 0, 0, 0, 0, 0, 0, 0.2, 0.6, 0.2, 0, 0.8, 1.8, 2.4,
         1.4, 2.0, 3.8, 0.6, 0, 0.3, 0, 0.6, 0.2, 0, 0, 0.4, 0, 0.3, 0, 0,
         0.2, 0.6, 0, 0, 0.3, 0, 0, 0.2, 0, 0, 0.4, 0, 0, 0.2, 0, 0.3,
         0, 0.4, 0.8, 2.0, 3.4, 5.8, 1.2, 0.3, 0, 0.2, 0.4, 0, 0.2, 0.3, 22.0, 0.6]
r_p29 = [0, 0, 0, 0, 0, 0, 0, 0, 0, 0, 0.4, 1.0, 0.3, 0.6, 1.2, 0.8,
         1.8, 3.2, 4.4, 0.8, 0.3, 0, 0.2, 0, 0.5, 0, 0.3, 0.6, 0, 0, 0.2, 0,
         0.3, 0, 0.2, 0, 0, 0.4, 0, 0.3, 0, 0, 0.2, 0, 0.5, 0, 0, 0.2,
         0, 0, 0.3, 0, 0.5, 0, 0.2, 0.6, 0, 0, 0.4, 0, 0.3, 0, 0, 0.4]
r_p30 = [0, 0, 0, 0, 0, 0, 0, 0, 0, 0.4, 1.2, 0.6, 0.2, 0, 0.6, 1.6,
         2.6, 4.0, 5.0, 1.6, 0.2, 0.6, 0, 0.3, 0, 0.2, 0.6, 0, 0, 0.4, 0, 0,
         0.2, 0.5, 0, 0, 0, 0.3, 0, 0, 0.6, 0, 0.2, 0, 0, 0.4, 0.8, 0.2,
         0, 0, 0.4, 0, 0.3, 0, 0.6, 0, 0.2, 0.4, 0, 0, 0.5, 0, 0.2, 0]

member_names = ["P%d" % k for k in range(1, 31)]
temps = [t_p1, t_p2, t_p3, t_p4, t_p5, t_p6, t_p7, t_p8, t_p9, t_p10,
         t_p11, t_p12, t_p13, t_p14, t_p15, t_p16, t_p17, t_p18, t_p19, t_p20,
         t_p21, t_p22, t_p23, t_p24, t_p25, t_p26, t_p27, t_p28, t_p29, t_p30]
rains = [r_p1, r_p2, r_p3, r_p4, r_p5, r_p6, r_p7, r_p8, r_p9, r_p10,
         r_p11, r_p12, r_p13, r_p14, r_p15, r_p16, r_p17, r_p18, r_p19, r_p20,
         r_p21, r_p22, r_p23, r_p24, r_p25, r_p26, r_p27, r_p28, r_p29, r_p30]

for nm, a, b in zip(member_names, temps, rains):
    if len(a) != len(times) or len(b) != len(times):
        raise ValueError("%s: %d %d" % (nm, len(a), len(b)))

# member colours: blue -> green, yellow -> dark red, then blue -> green again
first10 = ["#2a2ad6", "#1a4ec8", "#186cbe", "#1888b8", "#16a0a8",
           "#16a086", "#18a064", "#1aa844", "#22b024", "#3cbc16"]
mid10 = ["#b0b014", "#c4a814", "#c89a14", "#c88a14", "#c87614",
         "#c86614", "#b85418", "#a8401a", "#96301a", "#84201a"]
member_colors = first10 + mid10 + first10

C_CTRL = "#0a0aff"
C_OPER = "#12dd12"
C_CLIM = "#ee3c3c"

x = mdates.date2num(times.to_pydatetime())

fig = plt.figure(figsize=(8.5, 6.2), dpi=100, facecolor="black")
ax = fig.add_axes([163 / 850, 60 / 620, 647 / 850, 530 / 620])
ax.set_facecolor("black")
ax2 = ax.twinx()

for vals, col in zip(temps, member_colors):
    ax.plot(x, vals, color=col, lw=0.8)
ax.plot(x, clim, color=C_CLIM, lw=3.2)
ax.plot(x, control, color=C_CTRL, lw=2.8)
ax.plot(x, ens_mean, color="white", lw=2.8)
ax.plot(x, oper, color=C_OPER, lw=2.8)

for vals, col in zip(rains, member_colors):
    ax2.plot(x, vals, color=col, lw=0.8)
ax2.plot(x, rain_control, color=C_CTRL, lw=2.8)
ax2.plot(x, rain_mean, color="white", lw=2.8)
ax2.plot(x, rain_oper, color=C_OPER, lw=2.8)

# axes
ax.set_xlim(mdates.date2num(datetime(2026, 8, 23)), mdates.date2num(datetime(2026, 9, 8, 6)))
ax.set_ylim(-20, 35)
ax.set_yticks(range(-20, 36, 5))
days = pd.date_range("2026-08-23", "2026-09-08", freq="D")
ax.set_xticks(mdates.date2num(days.to_pydatetime()))
ax.set_xticklabels([d.strftime("%d%b 00z") if k % 2 == 0 else "" for k, d in enumerate(days)])
ax.grid(True, color="#3a3a3a", linestyle=(0, (4, 4)), linewidth=0.8)
ax.tick_params(axis="both", length=0, colors="white", labelsize=7.5)
ax.tick_params(axis="y", pad=7)
ax.tick_params(axis="x", pad=4)
for s in ax.spines.values():
    s.set_color("white")
    s.set_linewidth(1)

ax2.set_ylim(0, 40)
ax2.set_yticks([0, 10, 20, 30, 40])
ax2.yaxis.set_minor_locator(MultipleLocator(1))
ax2.tick_params(axis="y", which="both", direction="in", colors="white", labelsize=7.5, pad=5)
ax2.tick_params(axis="y", which="major", length=5)
ax2.tick_params(axis="y", which="minor", length=4)
for s in ax2.spines.values():
    s.set_visible(False)

ax.set_ylabel("850 hPa Temp. (\u00b0C)", color="white", fontsize=7.5, labelpad=1.5)
ax2.set_ylabel("Neerslag (mm)", color="white", fontsize=7.5, labelpad=3.5)
ax.set_xlabel("Date (UTC)", color="white", fontsize=7.5, labelpad=3)

# title and footer
fig.text(435 / 850, 1 - 12 / 620, "Brussels  (BE)  850 hPa Temp. & Neerslag | Sun, 23Aug2026 06Z",
         ha="center", va="center", fontsize=11.4, fontweight="bold", color="white")
fig.text(120 / 850, 1 - 598 / 620, "GFS Ensemble, 51N, 4.5E", ha="left", va="center",
         fontsize=11.5, color="#e8e8e8")
fig.text(793 / 850, 1 - 598 / 620, "Wetterzentrale.de", ha="right", va="center",
         fontsize=11.5, color="#e8e8e8")


# hand-placed legend on the left
def legend_item(px, py, label, color, lw):
    hx0, hx1 = (0, 8) if px < 40 else (53, 64)
    fig.add_artist(Line2D([hx0 / 850, hx1 / 850], [1 - (py + 2) / 620] * 2,
                          color=color, lw=lw, transform=fig.transFigure))
    fig.text(hx1 / 850, 1 - py / 620, label, color="white", fontsize=7.5,
             ha="left", va="center")


for k, (nm, col) in enumerate(zip(member_names, member_colors)):
    row, colnum = divmod(k, 2)
    legend_item(0 if colnum == 0 else 53, 39 + 15 * row, nm, col, 1.3)
legend_item(0, 265, "Control", C_CTRL, 2)
legend_item(53, 265, "Ens. mean", "white", 2)
legend_item(53, 293, "1991-2020", C_CLIM, 2)
fig.text(64 / 850, 1 - 303 / 620, "mean", color="white", fontsize=7.5, ha="left", va="center")
legend_item(0, 305, "Oper", C_OPER, 2)

fig.savefig("out.png", dpi=100, facecolor="black")
